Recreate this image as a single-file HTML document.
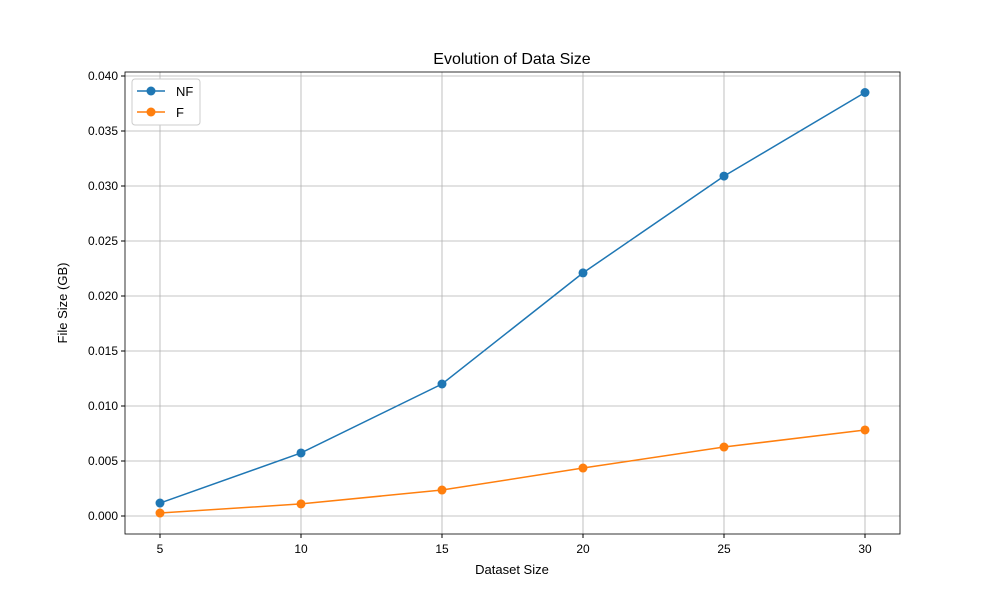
<!DOCTYPE html>
<html><head><meta charset="utf-8"><style>body{margin:0;background:#fff}svg{display:block;font-family:"Liberation Sans","DejaVu Sans",sans-serif}</style></head>
<body>
<svg id="chart" width="1000" height="600">
<rect width="1000" height="600" fill="#fff"/>
<g id="grid"></g><g id="axes"></g><g id="series"></g>
<text x="512" y="64" font-size="16" text-anchor="middle">Evolution of Data Size</text>
<text x="512" y="574" font-size="13" text-anchor="middle">Dataset Size</text>
<text transform="translate(67,303) rotate(-90)" font-size="13" text-anchor="middle">File Size (GB)</text>
<g>
<rect x="132" y="79" width="68" height="46" rx="3" fill="#fff" stroke="#ccc"/>
<g><line x1="137" y1="91" x2="165" y2="91" stroke="#1f77b4" stroke-width="1.5"/><circle cx="151" cy="91" r="4.5" fill="#1f77b4"/><text x="176" y="96" font-size="13">NF</text></g>
<g><line x1="137" y1="112" x2="165" y2="112" stroke="#ff7f0e" stroke-width="1.5"/><circle cx="151" cy="112" r="4.5" fill="#ff7f0e"/><text x="176" y="117" font-size="13">F</text></g>
</g>
</svg>
<script>
const categories=[5,10,15,20,25,30];
const nfValues=[0.00118,0.00573,0.0120,0.0221,0.0309,0.0385];
const fValues=[0.00027,0.0011,0.00236,0.00436,0.00627,0.00782];
const yTicks=[0,0.005,0.010,0.015,0.020,0.025,0.030,0.035,0.040];
const xTicks=[5,10,15,20,25,30];
const NS="http://www.w3.org/2000/svg";
const L=125,R=900,T=72,B=534;
const xs=v=>160+(v-5)*(865-160)/25;
const ys=v=>516-v*11000;
function mk(p,t,a){const e=document.createElementNS(NS,t);for(const k in a)e.setAttribute(k,a[k]);document.getElementById(p).appendChild(e);return e;}
xTicks.forEach(v=>{
 const g=mk('grid','line',{x1:xs(v),x2:xs(v),y1:T,y2:B,stroke:'#b0b0b0','stroke-width':0.8});
 
 
 mk('axes','line',{x1:xs(v),x2:xs(v),y1:B,y2:B+4,stroke:'#000'});
 const t=mk('axes','text',{x:xs(v),y:B+19,'font-size':12,'text-anchor':'middle'});t.textContent=v;
 
 
});
yTicks.forEach(v=>{
 const g=mk('grid','line',{x1:L,x2:R,y1:ys(v),y2:ys(v),stroke:'#b0b0b0','stroke-width':0.8});
 
 
 mk('axes','line',{x1:L-4,x2:L,y1:ys(v),y2:ys(v),stroke:'#000'});
 const t=mk('axes','text',{x:L-7,y:ys(v)+4,'font-size':12,'text-anchor':'end'});t.textContent=v.toFixed(3);
 
 
});
const fr=mk('axes','rect',{x:L,y:T,width:R-L,height:B-T,fill:'none',stroke:'#000','stroke-width':0.8});


[[nfValues,'#1f77b4','nf'],[fValues,'#ff7f0e','f']].forEach(([vals,c,n])=>{
 const pl=mk('series','polyline',{points:vals.map((v,i)=>xs(categories[i])+','+ys(v)).join(' '),fill:'none',stroke:c,'stroke-width':1.5});
 
 
 vals.forEach((v,i)=>{
  const p=mk('series','circle',{cx:xs(categories[i]),cy:ys(v),r:4.5,fill:c});
  
  
 });
});
</script>
</body></html>
